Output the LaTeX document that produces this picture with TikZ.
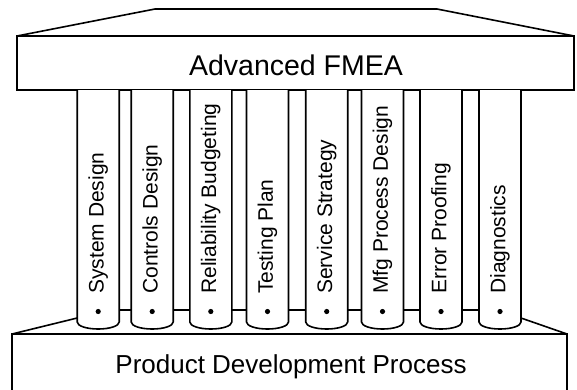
\documentclass[tikz,border=0pt]{standalone}
\usepackage{fontspec}
\setmainfont{Liberation Sans}
\begin{document}
\begin{tikzpicture}[x=1pt,y=-1pt,
  outline/.style={draw=black, line width=1.6pt, line join=miter},
  pillarlabel/.style={rotate=90, anchor=west, inner sep=0pt,
    font=\fontsize{21}{21}\selectfont},
]
\useasboundingbox (0,0) rectangle (577,389);

% roof and entablature
\draw[outline, fill=white] (17,36) -- (155,9) -- (437,9) -- (574,36);
\draw[outline, fill=white] (17,36) rectangle (574,90);
\node[inner sep=0pt, font=\fontsize{28.5}{30}\selectfont] (title) at (296,65) {Advanced FMEA};

% foundation
\draw[outline] (12,395) -- (12,334) -- (567,334) -- (567,395);
\node[anchor=base, inner sep=0pt, font=\fontsize{26}{28}\selectfont] (base) at (291,373) {Product Development Process};

% columns
\foreach \cx/\lab [count=\i] in {98.2/System Design, 152.2/Controls Design,
    210.8/Reliability Budgeting, 267.5/Testing Plan, 326.7/Service Strategy,
    382.5/Mfg Process Design, 441/Error Proofing, 500/Diagnostics} {
  \coordinate (c\i) at (\cx,0);
  \draw[outline, fill=white]
    (\cx-21,90) -- (\cx-21,322)
    .. controls (\cx-21,325.9) and (\cx-11.6,329) .. (\cx,329)
    .. controls (\cx+11.6,329) and (\cx+21,325.9) .. (\cx+21,322)
    -- (\cx+21,90);
  \coordinate (l\i) at (\cx-21,0);
  \coordinate (r\i) at (\cx+21,0);
  \node[pillarlabel] (p\i) at (\cx,294) {\lab};
  \fill (\cx,311.5) circle[radius=2.6pt];
}

% rear edge of the foundation between the columns
\foreach \a/\b in {1/2,2/3,3/4,4/5,5/6,6/7,7/8} {
  \draw[outline] (r\a |- 0,310) -- (l\b |- 0,310);
}

% slanted sides of the foundation
\draw[outline] (12,334) -- (l1 |- 0,318);
\draw[outline] (r8 |- 0,318) -- (567,334);
\end{tikzpicture}
\end{document}
